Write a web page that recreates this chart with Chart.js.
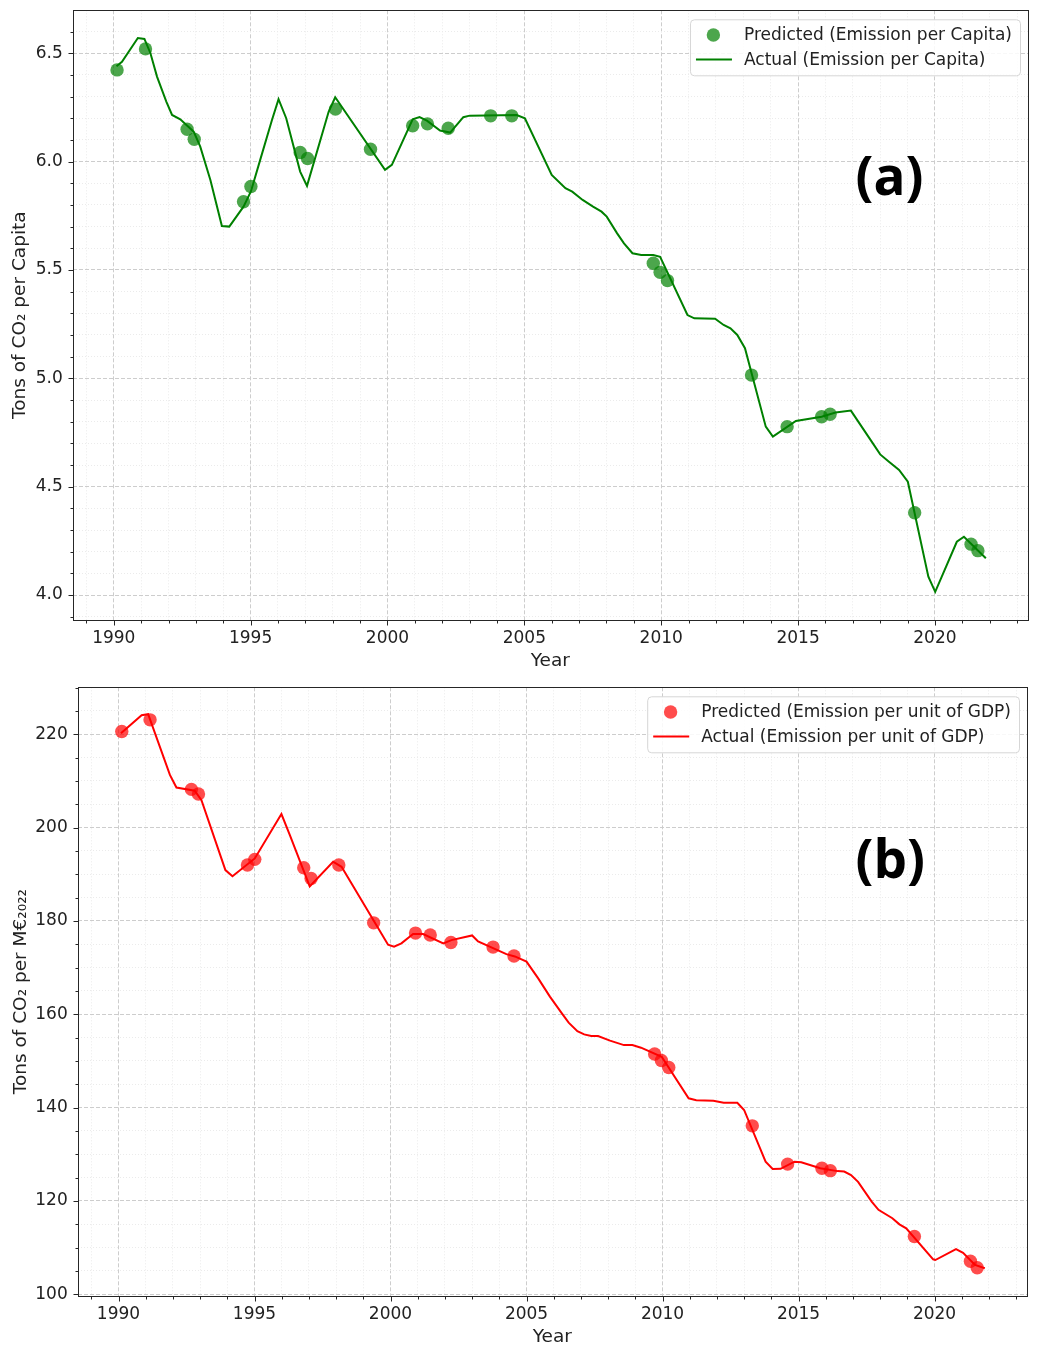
<!DOCTYPE html>
<html>
<head>
<meta charset="utf-8">
<script src="https://cdn.jsdelivr.net/npm/chart.js@4.4.1/dist/chart.umd.min.js"></script>
<style>
  body { margin: 0; background: #fff; }
  #wrap { position: relative; width: 1040px; height: 1351px; }
  canvas { position: absolute; left: 0; }
  #capChart { top: 0; }
  #gdpChart { top: 675px; }
</style>
</head>
<body>
<div id="wrap">
  <canvas id="capChart" width="1040" height="675"></canvas>
  <canvas id="gdpChart" width="1040" height="676"></canvas>
</div>
<script>
const FONT = "'DejaVu Sans', sans-serif";
const TEXT = "#222";

// predicted points (same dates in both panels)
const predYears = [1990.12, 1991.16, 1992.68, 1992.94, 1994.74, 1995.01, 1996.81, 1997.08, 1998.10, 1999.38,
  2000.92, 2001.46, 2002.22, 2003.77, 2004.54, 2009.71, 2009.96, 2010.23, 2013.30, 2014.60,
  2015.86, 2016.17, 2019.26, 2021.32, 2021.57];
const capPredicted = [6.423, 6.520, 6.149, 6.103, 5.815, 5.885, 6.042, 6.014, 6.242, 6.057,
  6.165, 6.174, 6.154, 6.211, 6.211, 5.531, 5.489, 5.451, 5.015, 4.777,
  4.823, 4.834, 4.380, 4.235, 4.205];
const gdpPredicted = [220.6, 223.1, 208.2, 207.2, 192.0, 193.2, 191.4, 189.1, 192.0, 179.6,
  177.4, 177.0, 175.4, 174.4, 172.5, 151.5, 150.1, 148.6, 136.1, 127.9,
  127.0, 126.5, 112.4, 107.1, 105.7];

// actual emission per capita
const capYears = [1990.10, 1990.30, 1990.88, 1991.12, 1991.34, 1991.58, 1991.92, 1992.13, 1992.43, 1992.92,
  1993.16, 1993.53, 1993.95, 1994.22, 1994.74, 1995.01, 1995.35, 1995.78, 1996.02, 1996.30,
  1996.81, 1997.06, 1997.85, 1998.09, 1999.91, 2000.16, 2000.92, 2001.17, 2001.44, 2001.92,
  2002.29, 2002.77, 2003.00, 2004.72, 2005.02, 2006.00, 2006.50, 2006.75, 2007.13, 2007.51,
  2007.82, 2008.01, 2008.39, 2008.64, 2008.95, 2009.27, 2009.71, 2009.96, 2010.96, 2011.21,
  2011.97, 2012.28, 2012.53, 2012.78, 2013.06, 2013.82, 2014.08, 2014.92, 2015.86, 2016.37,
  2016.93, 2017.69, 2018.00, 2018.32, 2018.69, 2019.01, 2019.76, 2020.01, 2020.80, 2021.06,
  2021.86];
const capActual = [6.440, 6.460, 6.570, 6.566, 6.500, 6.392, 6.277, 6.215, 6.195, 6.138,
  6.069, 5.915, 5.703, 5.700, 5.792, 5.862, 6.008, 6.192, 6.288, 6.200,
  5.954, 5.888, 6.230, 6.297, 5.962, 5.985, 6.195, 6.205, 6.189, 6.143,
  6.134, 6.205, 6.212, 6.215, 6.200, 5.938, 5.877, 5.861, 5.823, 5.792,
  5.769, 5.746, 5.669, 5.623, 5.577, 5.569, 5.569, 5.561, 5.292, 5.277,
  5.275, 5.246, 5.231, 5.200, 5.139, 4.777, 4.731, 4.803, 4.823, 4.842,
  4.851, 4.708, 4.649, 4.615, 4.577, 4.523, 4.085, 4.015, 4.246, 4.269,
  4.170];

// actual emission per unit of GDP
const gdpYears = [1990.09, 1990.85, 1991.09, 1991.89, 1992.13, 1992.80, 1993.05, 1993.93, 1994.19, 1995.01,
  1995.99, 1996.30, 1997.03, 1997.89, 1998.20, 1999.91, 2000.13, 2000.40, 2000.83, 2001.20,
  2001.94, 2002.24, 2003.00, 2003.22, 2004.26, 2004.57, 2005.00, 2005.43, 2005.86, 2006.30,
  2006.55, 2006.87, 2007.12, 2007.38, 2007.63, 2008.07, 2008.58, 2008.89, 2009.21, 2009.97,
  2010.96, 2011.24, 2011.87, 2012.25, 2012.75, 2013.00, 2013.79, 2014.05, 2014.34, 2014.85,
  2015.10, 2015.80, 2016.43, 2016.68, 2016.93, 2017.19, 2017.69, 2017.94, 2018.45, 2018.71,
  2018.96, 2019.95, 2020.03, 2020.79, 2021.05, 2021.49, 2021.85];
const gdpActual = [220.2, 224.1, 224.3, 211.3, 208.6, 207.9, 205.9, 190.9, 189.6, 193.4,
  202.9, 198.4, 187.4, 192.7, 191.6, 174.9, 174.5, 175.2, 177.2, 177.2,
  175.2, 175.9, 176.9, 175.6, 172.9, 172.4, 171.3, 167.7, 163.8, 160.2,
  158.2, 156.4, 155.7, 155.35, 155.35, 154.35, 153.4, 153.4, 152.85, 150.9,
  142.0, 141.6, 141.5, 141.06, 141.06, 139.5, 128.42, 126.86, 126.9, 128.42,
  128.3, 127.0, 126.4, 126.3, 125.57, 124.1, 119.85, 118.1, 116.3, 115.0,
  114.15, 107.5, 107.35, 109.7, 108.9, 106.3, 105.6];

// labelled ticks
const yearTicks = [1990, 1995, 2000, 2005, 2010, 2015, 2020];
const capTicks = [4.0, 4.5, 5.0, 5.5, 6.0, 6.5];
const gdpTicks = [100, 120, 140, 160, 180, 200, 220];

function isMajor(v, list) {
  return list.some(t => Math.abs(t - v) < 1e-6);
}

function pairs(xs, ys) {
  return xs.map((x, i) => ({ x: x, y: ys[i] }));
}

const panelDecor = {
  id: "panelDecor",
  afterDatasetsDraw(chart, args, opts) {
    const { ctx, chartArea: a, scales } = chart;
    const l = Math.round(a.left) + 0.5, r = Math.round(a.right) + 0.5;
    const t = Math.round(a.top) + 0.5, b = Math.round(a.bottom) + 0.5;
    ctx.save();
    ctx.strokeStyle = "#262626";
    ctx.lineWidth = 1;
    ctx.strokeRect(l, t, r - l, b - t);
    ctx.beginPath();
    scales.x.ticks.forEach(tk => {
      const px = Math.round(scales.x.getPixelForValue(tk.value)) + 0.5;
      const len = isMajor(tk.value, opts.xMajor) ? 5 : 3;
      ctx.moveTo(px, b);
      ctx.lineTo(px, b + len);
    });
    scales.y.ticks.forEach(tk => {
      const py = Math.round(scales.y.getPixelForValue(tk.value)) + 0.5;
      const len = isMajor(tk.value, opts.yMajor) ? 5 : 3;
      ctx.moveTo(l, py);
      ctx.lineTo(l - len, py);
    });
    ctx.stroke();
    ctx.restore();
  },
  afterDraw(chart, args, opts) {
    const { ctx, chartArea: a } = chart;
    ctx.save();
    // legend box, upper right
    ctx.font = "17px " + FONT;
    const textW = Math.max(...opts.labels.map(s => ctx.measureText(s).width));
    const w = 54 + textW + 8, h = 56;
    const x0 = a.right - 8 - w, y0 = a.top + 9;
    ctx.beginPath();
    ctx.roundRect(x0 + 0.5, y0 + 0.5, w, h, 4);
    ctx.fillStyle = "rgba(255,255,255,0.85)";
    ctx.fill();
    ctx.strokeStyle = "#d6d6d6";
    ctx.lineWidth = 1;
    ctx.stroke();

    ctx.fillStyle = opts.pointColor;
    ctx.beginPath();
    ctx.arc(x0 + 23.4, y0 + 15.7, 6.7, 0, Math.PI * 2);
    ctx.fill();

    ctx.strokeStyle = opts.lineColor;
    ctx.lineWidth = 2;
    ctx.beginPath();
    ctx.moveTo(x0 + 6, y0 + 40.2);
    ctx.lineTo(x0 + 42, y0 + 40.2);
    ctx.stroke();

    ctx.fillStyle = TEXT;
    ctx.textBaseline = "middle";
    ctx.textAlign = "left";
    ctx.fillText(opts.labels[0], x0 + 54, y0 + 16.5);
    ctx.fillText(opts.labels[1], x0 + 54, y0 + 41);

    // panel letter
    ctx.font = "bold 53px 'Open Sans', sans-serif";
    ctx.fillStyle = "#000";
    ctx.textAlign = "center";
    ctx.fillText(opts.letter, a.left + opts.letterX * (a.right - a.left), a.top + opts.letterY * (a.bottom - a.top));
    ctx.restore();
  }
};

function gridColor(c, list) {
  if (!c.tick) return "#ddd";
  return isMajor(c.tick.value, list) ? "#cdcdcd" : "#ebebeb";
}

function gridDash(c, list) {
  if (!c.tick) return [];
  return isMajor(c.tick.value, list) ? [4, 2] : [1, 2];
}

function makeChart(id, cfg) {
  return new Chart(document.getElementById(id), {
    type: "scatter",
    data: {
      datasets: [
        {
          label: cfg.labels[1],
          data: pairs(cfg.lineX, cfg.lineY),
          showLine: true,
          borderColor: cfg.lineColor,
          borderWidth: 2,
          pointRadius: 0,
          tension: 0,
          order: 0
        },
        {
          label: cfg.labels[0],
          data: pairs(predYears, cfg.pred),
          pointRadius: 6.7,
          pointBorderWidth: 0,
          backgroundColor: cfg.pointColor,
          borderColor: cfg.pointColor,
          order: 1
        }
      ]
    },
    options: {
      responsive: false,
      animation: false,
      devicePixelRatio: 1,
      layout: { padding: { top: cfg.padTop, right: cfg.padRight, left: 0, bottom: 0 } },
      plugins: {
        legend: { display: false },
        tooltip: { enabled: false },
        panelDecor: {
          labels: cfg.labels,
          pointColor: cfg.pointColor,
          lineColor: cfg.lineColor,
          letter: cfg.letter,
          letterX: cfg.letterX,
          letterY: cfg.letterY,
          xMajor: yearTicks,
          yMajor: cfg.yTicks
        }
      },
      scales: {
        x: {
          type: "linear",
          min: 1988.5,
          max: 2023.4,
          afterFit: s => {
            s.height = 55;
            s.paddingLeft = 0;
            s.paddingRight = 0;
          },
          ticks: {
            stepSize: 1,
            autoSkip: false,
            includeBounds: false,
            maxRotation: 0,
            minRotation: 0,
            padding: 8,
            color: TEXT,
            font: { family: FONT, size: 17 },
            callback: v => isMajor(v, yearTicks) ? String(Math.round(v)) : ""
          },
          grid: { drawTicks: false, lineWidth: 1, color: c => gridColor(c, yearTicks) },
          border: { display: false, dash: c => gridDash(c, yearTicks) },
          title: {
            display: true,
            text: "Year",
            color: TEXT,
            font: { family: FONT, size: 18.5, lineHeight: 1.2 },
            padding: { top: 0, bottom: 3 }
          }
        },
        y: {
          min: cfg.yMin,
          max: cfg.yMax,
          afterFit: s => {
            s.width = cfg.yWidth;
            s.paddingTop = 0;
            s.paddingBottom = 0;
          },
          ticks: {
            stepSize: cfg.yStep,
            autoSkip: false,
            includeBounds: false,
            padding: 10,
            color: TEXT,
            font: { family: FONT, size: 17 },
            callback: v => isMajor(v, cfg.yTicks) ? cfg.fmt(v) : ""
          },
          grid: { drawTicks: false, lineWidth: 1, color: c => gridColor(c, cfg.yTicks) },
          border: { display: false, dash: c => gridDash(c, cfg.yTicks) },
          title: {
            display: true,
            text: cfg.yTitle,
            color: TEXT,
            font: { family: FONT, size: 18.5, lineHeight: 1.2 },
            padding: { top: cfg.yTitlePad, bottom: 0 }
          }
        }
      }
    },
    plugins: [panelDecor]
  });
}

makeChart("capChart", {
  lineX: capYears,
  lineY: capActual,
  pred: capPredicted,
  labels: ["Predicted (Emission per Capita)", "Actual (Emission per Capita)"],
  pointColor: "rgba(0,128,0,0.7)",
  lineColor: "#008000",
  letter: "(a)",
  letterX: 0.855,
  letterY: 0.278,
  padTop: 10.3,
  padRight: 12,
  yWidth: 72.7,
  yMin: 3.885,
  yMax: 6.698,
  yStep: 0.1,
  yTicks: capTicks,
  fmt: v => v.toFixed(1),
  yTitle: "Tons of CO\u2082 per Capita",
  yTitlePad: 9
});

makeChart("gdpChart", {
  lineX: gdpYears,
  lineY: gdpActual,
  pred: gdpPredicted,
  labels: ["Predicted (Emission per unit of GDP)", "Actual (Emission per unit of GDP)"],
  pointColor: "rgba(255,0,0,0.7)",
  lineColor: "#ff0000",
  letter: "(b)",
  letterX: 0.856,
  letterY: 0.289,
  padTop: 12.3,
  padRight: 13,
  yWidth: 77.7,
  yMin: 99.64,
  yMax: 230.07,
  yStep: 5,
  yTicks: gdpTicks,
  fmt: v => String(Math.round(v)),
  yTitle: "Tons of CO\u2082 per M\u20ac\u2082\u2080\u2082\u2082",
  yTitlePad: 10.5
});
</script>
</body>
</html>
